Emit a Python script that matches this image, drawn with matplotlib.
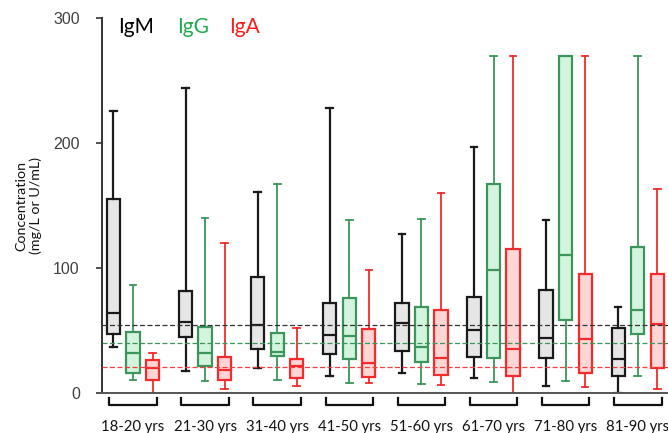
import matplotlib
matplotlib.use("Agg")
import matplotlib.pyplot as plt
import numpy as np

# age groups
groups = ["18-20 yrs", "21-30 yrs", "31-40 yrs", "41-50 yrs",
          "51-60 yrs", "61-70 yrs", "71-80 yrs", "81-90 yrs"]

# IgM
igm_hi = [226, 244, 161, 228, 127, 197, 138, 69]
igm_q3 = [155, 81.5, 93, 72, 72, 77, 82.5, 51.5]
igm_med = [64, 57, 54, 46, 56, 50, 44, 27]
igm_q1 = [47, 44.5, 35, 31, 33.5, 29, 27.5, 13.5]
igm_lo = [37, 17.5, 19.5, 13, 16, 11.5, 5, 0]

# IgG
igg_hi = [86.5, 140, 167, 138, 139, 270, 270, 270]
igg_q3 = [48.5, 53, 48, 75.5, 69, 167.5, 270, 117]
igg_med = [31.5, 31.5, 33, 45.5, 37, 98, 110, 66]
igg_q1 = [16, 21.5, 29.5, 27, 25, 28, 58.5, 47]
igg_lo = [10, 9, 10.5, 8, 7, 8.5, 9.5, 13.5]

# IgA
iga_hi = [31.5, 120, 52, 98, 160, 270, 270, 163.5]
iga_q3 = [26, 29, 27, 51, 66.5, 115, 95.5, 95.5]
iga_med = [19.5, 18, 21, 23.5, 27.5, 35, 43, 55]
iga_q1 = [10.5, 10.5, 11.5, 12.5, 14.5, 13.5, 16, 20]
iga_lo = [0, 2.7, 5.5, 7.5, 6, 0, 4.5, 3]

# dashed reference levels (IgM, IgG, IgA)
ref_levels = [54, 39.5, 20.5]

plt.rcParams["font.family"] = ["Liberation Sans", "DejaVu Sans"]

fig = plt.figure(figsize=(6.68, 4.33), dpi=100)
ax = fig.add_axes([102 / 668, (433 - 392.7) / 433, 1 - 102 / 668, (392.7 - 18.3) / 433])

x = np.arange(len(groups))
off = 0.271
bw = 0.184

series = [
    (igm_lo, igm_q1, igm_med, igm_q3, igm_hi, -off, "#1a1a1a", "#e6e6e6", 1.6),
    (igg_lo, igg_q1, igg_med, igg_q3, igg_hi, 0.0, "#3c955a", "#d3f4dd", 1.3),
    (iga_lo, iga_q1, iga_med, iga_q3, iga_hi, off, "#f52a2a", "#ffd6d6", 1.3),
]

for lo, q1, med, q3, hi, dx, ec, fc, wlw in series:
    stats = []
    for i in range(len(groups)):
        stats.append(dict(whislo=lo[i], q1=q1[i], med=med[i], q3=q3[i],
                          whishi=hi[i], fliers=[]))
    ax.bxp(stats, positions=x + dx, widths=bw, patch_artist=True,
           showfliers=False, manage_ticks=False,
           boxprops=dict(facecolor=fc, edgecolor=ec, linewidth=1.6),
           medianprops=dict(color=ec, linewidth=1.6),
           whiskerprops=dict(color=ec, linewidth=wlw),
           capprops=dict(color=ec, linewidth=wlw))

ref_colors = ["#333333", "#3c955a", "#f04040"]
for lvl, c in zip(ref_levels, ref_colors):
    ax.axhline(lvl, color=c, linestyle=(0, (4, 2)), linewidth=0.9, zorder=5)

ax.set_xlim(-0.43, 7.42)
ax.set_ylim(0, 300)
ax.set_yticks([0, 100, 200, 300])
ax.set_xticks([])
ax.tick_params(axis="y", length=4, width=1.2, color="#333333", pad=12,
               labelsize=11.5, labelcolor="#404040")
for s in ["top", "right"]:
    ax.spines[s].set_visible(False)
ax.spines["left"].set_color("#333333")
ax.spines["left"].set_linewidth(1.4)
ax.spines["bottom"].set_color("#555555")
ax.spines["bottom"].set_linewidth(1.4)

# group brackets and labels under the axis
trans = ax.get_xaxis_transform()
for i, g in enumerate(groups):
    ax.plot([i - 0.33, i - 0.33, i + 0.33, i + 0.33], [-0.014, -0.034, -0.034, -0.014],
            color="#111111", linewidth=1.6, transform=trans, clip_on=False)
    ax.text(i, -0.091, g, transform=trans, ha="center", va="center",
            fontsize=10.7, family="Lato", color="#111111")

ax.set_ylabel("Concentration\n(mg/L or U/mL)", fontsize=10.3, family="Lato",
              color="#111111", linespacing=1.2)
ax.yaxis.set_label_coords(-0.106, 0.5)

# legend as coloured words
for lbl, c, xp in [("IgM", "#000000", 118), ("IgG", "#1faa4b", 177), ("IgA", "#ff1a1a", 229)]:
    fig.text(xp / 668, 1 - 27 / 433, lbl, color=c, fontsize=15, family="Lato",
             ha="left", va="center")

fig.savefig("out.png", dpi=100)
